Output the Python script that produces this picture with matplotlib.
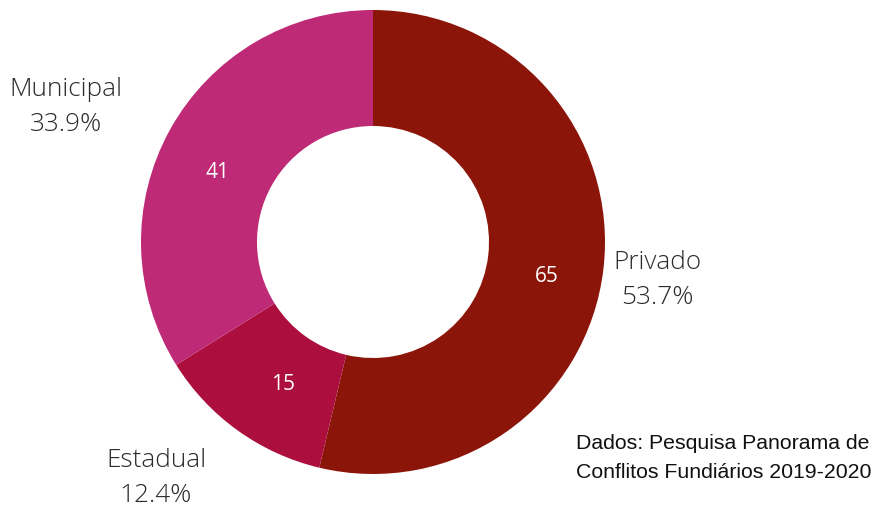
import matplotlib.pyplot as plt

categorias = ['Privado', 'Estadual', 'Municipal']
conflitos = [65, 15, 41]
cores = ['#8c150a', '#ac0e3e', '#be2a76']

# label positions (pixels, origin top-left)
pos_nome = [(657, 280), (156, 478), (66, 107)]
pos_valor = [(547, 276), (283, 384), (218, 173)]

W, H = 875, 507
fig = plt.figure(figsize=(W / 100, H / 100), dpi=100)
ax = fig.add_axes([0, 0, 1, 1])

total = sum(conflitos)
ax.pie(conflitos, colors=cores, startangle=90, counterclock=False,
       center=(373, H - 242), radius=232,
       wedgeprops=dict(width=116, edgecolor='none'))
ax.set_xlim(0, W)
ax.set_ylim(0, H)
ax.set_aspect('equal')
ax.axis('off')

for nome, n, (x, y) in zip(categorias, conflitos, pos_nome):
    ax.text(x, H - y, f'{nome}\n{100 * n / total:.1f}%', ha='center', va='center',
            fontsize=18.8, family='Open Sans', fontweight='light', color='#2b2b2b',
            linespacing=1.57)

for n, (x, y) in zip(conflitos, pos_valor):
    ax.text(x, H - y, str(n), ha='center', va='center', fontsize=15,
            family='Open Sans', color='white')

ax.text(576, H - 458, 'Dados: Pesquisa Panorama de\nConflitos Fundiários 2019-2020',
        ha='left', va='center', fontsize=15.3, family='Liberation Sans',
        color='#111111', linespacing=1.62)

fig.savefig('out.png', dpi=100)
